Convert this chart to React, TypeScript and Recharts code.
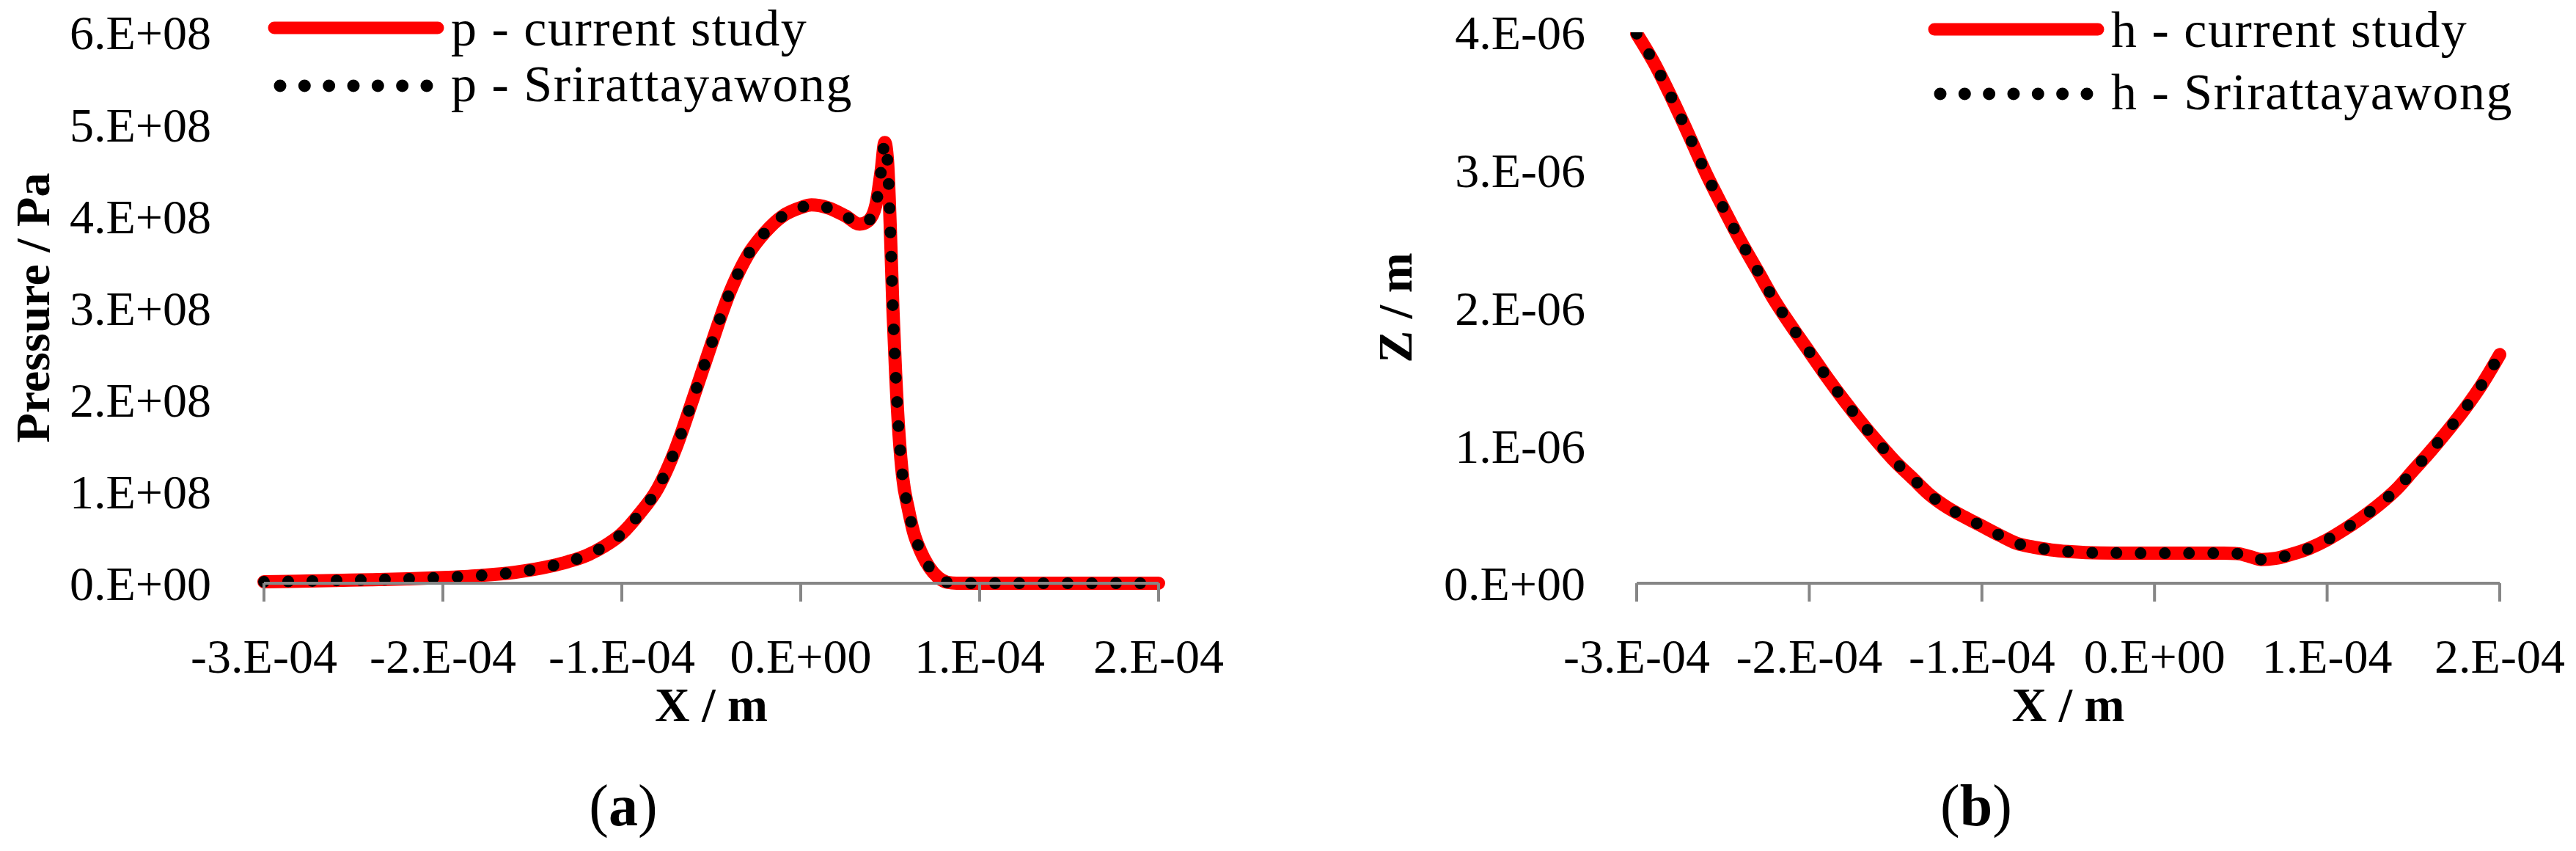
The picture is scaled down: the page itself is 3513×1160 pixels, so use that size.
import { Label, Line, LineChart, XAxis, YAxis } from "recharts";

// (a) pressure distribution, x in m, p in Pa
const xP = [
  -3.0e-4, -2.8e-4, -2.6e-4, -2.4e-4, -2.2e-4, -2.0e-4, -1.8e-4, -1.6e-4, -1.4e-4, -1.3e-4,
  -1.2e-4, -1.1e-4, -1.0e-4, -0.9e-4, -0.8e-4, -0.7e-4, -0.6e-4, -0.5e-4, -0.4e-4, -0.3e-4,
  -0.2e-4, -0.1e-4, 0, 0.06e-4, 0.15e-4, 0.25e-4, 0.33e-4, 0.38e-4, 0.42e-4, 0.45e-4,
  0.47e-4, 0.485e-4, 0.5e-4, 0.515e-4, 0.53e-4, 0.55e-4, 0.57e-4, 0.6e-4, 0.63e-4, 0.67e-4,
  0.72e-4, 0.77e-4, 0.82e-4, 0.87e-4, 1.0e-4, 1.5e-4, 2.0e-4,
];
const pCurrent = [
  1.5e6, 2.2e6, 3.0e6, 3.8e6, 4.8e6, 6.2e6, 8.3e6, 1.18e7, 1.85e7, 2.35e7,
  3.0e7, 4.0e7, 5.4e7, 7.6e7, 1.03e8, 1.46e8, 2.02e8, 2.6e8, 3.15e8, 3.56e8,
  3.82e8, 4.0e8, 4.09e8, 4.12e8, 4.09e8, 4.0e8, 3.91e8, 3.95e8, 4.12e8, 4.5e8,
  4.8e8, 4.6e8, 3.9e8, 3.0e8, 2.3e8, 1.6e8, 1.15e8, 8.2e7, 5.6e7, 3.5e7,
  1.7e7, 6.0e6, 1.0e6, 0, 0, 0, 0,
];
const pSrirattayawong = [
  1.5e6, 2.2e6, 3.0e6, 3.8e6, 4.8e6, 6.2e6, 8.3e6, 1.18e7, 1.85e7, 2.35e7,
  3.0e7, 4.0e7, 5.4e7, 7.6e7, 1.03e8, 1.46e8, 2.02e8, 2.6e8, 3.15e8, 3.56e8,
  3.82e8, 4.0e8, 4.09e8, 4.12e8, 4.09e8, 4.0e8, 3.91e8, 3.95e8, 4.12e8, 4.5e8,
  4.8e8, 4.6e8, 3.9e8, 3.0e8, 2.3e8, 1.6e8, 1.15e8, 8.2e7, 5.6e7, 3.5e7,
  1.7e7, 6.0e6, 1.0e6, 0, 0, 0, 0,
];

// (b) film thickness, x in m, h in m
const xH = [
  -3.0e-4, -2.9e-4, -2.8e-4, -2.7e-4, -2.6e-4, -2.5e-4, -2.4e-4, -2.3e-4, -2.2e-4, -2.1e-4,
  -2.0e-4, -1.9e-4, -1.8e-4, -1.7e-4, -1.6e-4, -1.5e-4, -1.4e-4, -1.3e-4, -1.2e-4, -1.1e-4,
  -1.0e-4, -0.9e-4, -0.8e-4, -0.7e-4, -0.6e-4, -0.5e-4, -0.4e-4, -0.2e-4, 0, 0.2e-4,
  0.4e-4, 0.48e-4, 0.55e-4, 0.62e-4, 0.7e-4, 0.78e-4, 0.9e-4, 1.0e-4, 1.1e-4, 1.2e-4,
  1.3e-4, 1.4e-4, 1.5e-4, 1.6e-4, 1.7e-4, 1.8e-4, 1.9e-4, 2.0e-4,
];
const hCurrent = [
  3.99e-6, 3.78e-6, 3.53e-6, 3.26e-6, 2.98e-6, 2.73e-6, 2.49e-6, 2.27e-6, 2.05e-6, 1.86e-6,
  1.68e-6, 1.5e-6, 1.33e-6, 1.17e-6, 1.02e-6, 0.88e-6, 0.76e-6, 0.64e-6, 0.55e-6, 0.48e-6,
  0.415e-6, 0.35e-6, 0.29e-6, 0.262e-6, 0.242e-6, 0.23e-6, 0.223e-6, 0.219e-6, 0.218e-6, 0.218e-6,
  0.218e-6, 0.215e-6, 0.195e-6, 0.172e-6, 0.18e-6, 0.205e-6, 0.255e-6, 0.315e-6, 0.39e-6, 0.475e-6,
  0.57e-6, 0.68e-6, 0.82e-6, 0.96e-6, 1.11e-6, 1.27e-6, 1.45e-6, 1.66e-6,
];
const hSrirattayawong = [
  3.99e-6, 3.78e-6, 3.53e-6, 3.26e-6, 2.98e-6, 2.73e-6, 2.49e-6, 2.27e-6, 2.05e-6, 1.86e-6,
  1.68e-6, 1.5e-6, 1.33e-6, 1.17e-6, 1.02e-6, 0.88e-6, 0.76e-6, 0.64e-6, 0.55e-6, 0.48e-6,
  0.415e-6, 0.35e-6, 0.29e-6, 0.262e-6, 0.242e-6, 0.23e-6, 0.223e-6, 0.219e-6, 0.218e-6, 0.218e-6,
  0.218e-6, 0.215e-6, 0.195e-6, 0.172e-6, 0.18e-6, 0.205e-6, 0.255e-6, 0.315e-6, 0.39e-6, 0.475e-6,
  0.57e-6, 0.68e-6, 0.82e-6, 0.96e-6, 1.11e-6, 1.27e-6, 1.45e-6, 1.66e-6,
];

const xTicks = [-3e-4, -2e-4, -1e-4, 0, 1e-4, 2e-4];
const pTicks = [0, 1e8, 2e8, 3e8, 4e8, 5e8, 6e8];
const hTicks = [0, 1e-6, 2e-6, 3e-6, 4e-6];

const FONT = "'Liberation Serif', 'Times New Roman', serif";
const RED = "#ff0000";
const AXIS = "#868686";

// Excel "0.E+00" style
function fmtE(v: number) {
  const [m, e] = v.toExponential(0).split("e");
  return `${m}.E${e[0]}${e.slice(1).padStart(2, "0")}`;
}

const tickStyle = { fontSize: 66, fill: "#000", fontFamily: FONT };

// rotated title; titleX is the baseline position inside the chart svg
function YTitle({ viewBox, text, titleX }: any) {
  const cy = viewBox.y + viewBox.height / 2;
  return (
    <text
      x={titleX}
      y={cy}
      transform={`rotate(-90 ${titleX} ${cy})`}
      textAnchor="middle"
      fontSize={66}
      fontWeight="bold"
      fontFamily={FONT}
      fill="#000"
    >
      {text}
    </text>
  );
}

function XTitle({ viewBox }: any) {
  return (
    <text
      x={viewBox.x + viewBox.width / 2}
      y={viewBox.y + 188}
      textAnchor="middle"
      fontSize={66}
      fontWeight="bold"
      fontFamily={FONT}
      fill="#000"
    >
      X / m
    </text>
  );
}

function Panel({
  rows,
  yTicks,
  yTitle,
  yTitleX,
  width,
  yAxisWidth,
  right,
  yLabelGap,
  clip,
}: {
  rows: { x: number; cur: number; ref: number }[];
  yTicks: number[];
  yTitle: string;
  yTitleX: number;
  width: number;
  yAxisWidth: number;
  right: number;
  yLabelGap: number;
  clip: boolean;
}) {
  return (
    <LineChart width={width} height={1160} data={rows} margin={{ top: 44, right, bottom: 205, left: 0 }}>
      <XAxis
        dataKey="x"
        type="number"
        domain={[xTicks[0], xTicks[xTicks.length - 1]]}
        ticks={xTicks}
        interval={0}
        tickFormatter={fmtE}
        tick={tickStyle}
        stroke={AXIS}
        strokeWidth={4}
        tickLine={{ stroke: AXIS, strokeWidth: 4 }}
        tickSize={25}
        tickMargin={50}
        height={160}
      >
        <Label content={<XTitle />} />
      </XAxis>
      <YAxis
        type="number"
        domain={[yTicks[0], yTicks[yTicks.length - 1]]}
        ticks={yTicks}
        interval={0}
        allowDataOverflow={clip}
        tickFormatter={fmtE}
        tick={tickStyle}
        axisLine={false}
        tickLine={false}
        tickSize={0}
        tickMargin={yLabelGap}
        width={yAxisWidth}
      >
        <Label content={<YTitle text={yTitle} titleX={yTitleX} />} />
      </YAxis>
      <Line
        dataKey="cur"
        type="monotone"
        stroke={RED}
        strokeWidth={18}
        strokeLinecap="round"
        strokeLinejoin="round"
        dot={false}
        activeDot={false}
        isAnimationActive={false}
      />
      <Line
        dataKey="ref"
        type="monotone"
        stroke="#000"
        strokeWidth={16}
        strokeDasharray="0 33"
        strokeLinecap="round"
        dot={false}
        activeDot={false}
        isAnimationActive={false}
      />
    </LineChart>
  );
}

function LegendBlock({
  x,
  lineY,
  dotY,
  labels,
}: {
  x: number;
  lineY: number;
  dotY: number;
  labels: string[];
}) {
  return (
    <g fontFamily={FONT} fontSize={70} fill="#000" letterSpacing={1.5}>
      <line x1={x} x2={x + 223} y1={lineY} y2={lineY} stroke={RED} strokeWidth={17} strokeLinecap="round" />
      <line
        x1={x + 8}
        x2={x + 210}
        y1={dotY}
        y2={dotY}
        stroke="#000"
        strokeWidth={17}
        strokeDasharray="0 33.33"
        strokeLinecap="round"
      />
      <text x={x + 241} y={lineY + 24}>{labels[0]}</text>
      <text x={x + 241} y={dotY + 21}>{labels[1]}</text>
    </g>
  );
}

export default function App() {
  const pRows = xP.map((x, i) => ({ x, cur: pCurrent[i], ref: pSrirattayawong[i] }));
  const hRows = xH.map((x, i) => ({ x, cur: hCurrent[i], ref: hSrirattayawong[i] }));

  return (
    <div style={{ position: "absolute", left: 0, top: 0, width: 3513, height: 1160, background: "#fff" }}>
      <div style={{ position: "absolute", left: 0, top: 0 }}>
        <Panel
          rows={pRows}
          yTicks={pTicks}
          yTitle="Pressure / Pa"
          yTitleX={67}
          width={1700}
          yAxisWidth={360}
          right={120}
          yLabelGap={72}
          clip={false}
        />
      </div>
      <div style={{ position: "absolute", left: 1750, top: 0 }}>
        <Panel
          rows={hRows}
          yTicks={hTicks}
          yTitle="Z / m"
          yTitleX={175}
          width={1763}
          yAxisWidth={482}
          right={104}
          yLabelGap={70}
          clip={true}
        />
      </div>
      <svg
        width={3513}
        height={1160}
        style={{ position: "absolute", left: 0, top: 0, pointerEvents: "none" }}
      >
        <LegendBlock x={374} lineY={38} dotY={117} labels={["p - current study", "p - Srirattayawong"]} />
        <LegendBlock x={2638} lineY={40} dotY={128} labels={["h - current study", "h - Srirattayawong"]} />
        <text x={850} y={1125} textAnchor="middle" fontFamily={FONT} fontSize={80} fill="#000">
          (<tspan fontWeight="bold">a</tspan>)
        </text>
        <text x={2695} y={1125} textAnchor="middle" fontFamily={FONT} fontSize={80} fill="#000">
          (<tspan fontWeight="bold">b</tspan>)
        </text>
      </svg>
    </div>
  );
}
